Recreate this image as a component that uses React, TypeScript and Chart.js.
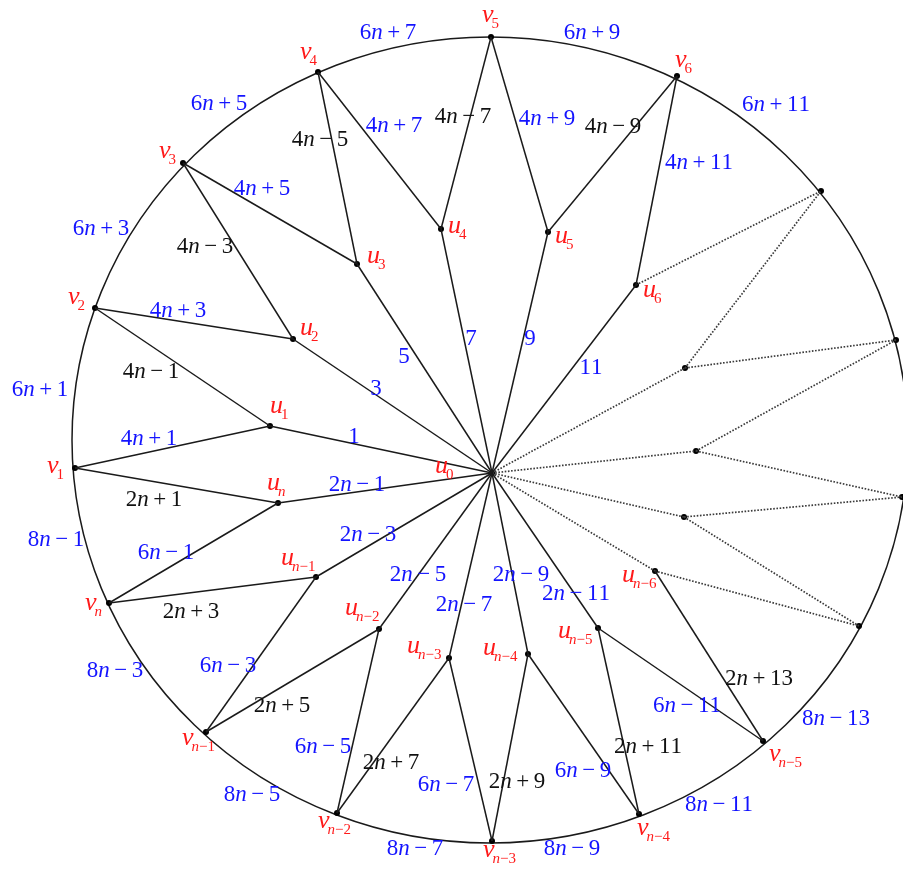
import React, { useEffect, useRef } from "react";
import { Chart, registerables } from "chart.js";

Chart.register(...registerables);

// ---- Graph nodes (data units = picture pixels, y downward) ----
const nodeIds = [
  "u0", "u1", "u2", "u3", "u4", "u5", "u6",
  "un", "un1", "un2", "un3", "un4", "un5", "un6",
  "w1", "w2", "w3",
  "v1", "v2", "v3", "v4", "v5", "v6", "v7", "v8", "v9",
  "vn", "vn1", "vn2", "vn3", "vn4", "vn5", "vn6",
];
const nodeX = [
  492, 270, 293, 357, 441, 548, 636,
  278, 316, 379, 449, 528, 598, 655,
  685, 696, 684,
  75, 95, 183, 318, 491, 677, 821, 896, 902,
  109, 206, 337, 492, 639, 763, 859,
];
const nodeY = [
  473, 426, 339, 264, 229, 232, 285,
  503, 577, 629, 658, 654, 628, 571,
  368, 451, 517,
  468, 308, 163, 72, 37, 76, 191, 340, 497,
  603, 732, 813, 841, 814, 741, 626,
];

// ---- Edges ----
const solidEdges: [string, string][] = [
  ["u0", "u1"], ["u0", "u2"], ["u0", "u3"], ["u0", "u4"], ["u0", "u5"], ["u0", "u6"],
  ["u0", "un"], ["u0", "un1"], ["u0", "un2"], ["u0", "un3"], ["u0", "un4"], ["u0", "un5"],
  ["u1", "v1"], ["u1", "v2"], ["u2", "v2"], ["u2", "v3"], ["u3", "v3"], ["u3", "v4"],
  ["u4", "v4"], ["u4", "v5"], ["u5", "v5"], ["u5", "v6"], ["u6", "v6"],
  ["un", "vn"], ["un", "v1"], ["un1", "vn1"], ["un1", "vn"], ["un2", "vn2"], ["un2", "vn1"],
  ["un3", "vn3"], ["un3", "vn2"], ["un4", "vn4"], ["un4", "vn3"], ["un5", "vn5"], ["un5", "vn4"],
  ["un6", "vn5"],
];
const dottedEdges: [string, string][] = [
  ["u6", "v7"], ["u0", "w1"], ["w1", "v7"], ["w1", "v8"],
  ["u0", "w2"], ["w2", "v8"], ["w2", "v9"],
  ["u0", "w3"], ["w3", "v9"], ["w3", "vn6"],
  ["u0", "un6"], ["un6", "vn6"],
];

// ---- Outer circle (ellipse in picture units) ----
const rimCenterX = 490;
const rimCenterY = 440;
const rimRadiusX = 418;
const rimRadiusY = 403;

// ---- Blue edge labels ----
const blueLabels = [
  "6n+7", "6n+9", "6n+11", "6n+5", "6n+3", "6n+1",
  "8n−1", "8n−3", "8n−5", "8n−7", "8n−9", "8n−11", "8n−13",
  "4n+7", "4n+5", "4n+3", "4n+1", "4n+9", "4n+11",
  "6n−1", "6n−3", "6n−5", "6n−7", "6n−9", "6n−11",
  "1", "3", "5", "7", "9", "11",
  "2n−1", "2n−3", "2n−5", "2n−7", "2n−9", "2n−11",
];
const blueX = [
  388, 592, 776, 219, 101, 40,
  56, 115, 252, 415, 572, 719, 836,
  394, 262, 178, 149, 547, 699,
  166, 228, 323, 446, 583, 687,
  354, 376, 404, 471, 530, 591,
  357, 368, 418, 464, 521, 576,
];
const blueY = [
  31, 31, 103, 102, 227, 388,
  538, 669, 793, 847, 847, 803, 717,
  124, 187, 309, 437, 117, 161,
  551, 664, 745, 783, 769, 704,
  435, 387, 355, 337, 337, 366,
  483, 533, 573, 603, 573, 592,
];

// ---- Black edge labels ----
const blackLabels = [
  "4n−5", "4n−3", "4n−7", "4n−9", "4n−1",
  "2n+1", "2n+3", "2n+5", "2n+7", "2n+9", "2n+11", "2n+13",
];
const blackX = [320, 205, 463, 613, 151, 154, 191, 282, 391, 517, 648, 759];
const blackY = [138, 245, 115, 125, 370, 498, 610, 704, 761, 780, 745, 677];

// ---- Red vertex labels (letter, subscript, left x, baseline y) ----
const vertexLetter = [
  "u", "u", "u", "u", "u", "u", "u",
  "u", "u", "u", "u", "u", "u", "u",
  "v", "v", "v", "v", "v", "v",
  "v", "v", "v", "v", "v", "v",
];
const vertexSub = [
  "0", "1", "2", "3", "4", "5", "6",
  "n", "n−1", "n−2", "n−3", "n−4", "n−5", "n−6",
  "1", "2", "3", "4", "5", "6",
  "n", "n−1", "n−2", "n−3", "n−4", "n−5",
];
const vertexX = [
  435, 270, 300, 367, 448, 555, 643,
  267, 281, 345, 407, 483, 558, 622,
  47, 68, 159, 300, 482, 675,
  85, 182, 318, 483, 637, 769,
];
const vertexY = [
  473, 413, 335, 263, 233, 243, 297,
  490, 565, 615, 653, 655, 638, 582,
  473, 304, 158, 59, 22, 67,
  610, 745, 828, 857, 835, 761,
];

const SERIF = '"Liberation Serif", "Times New Roman", serif';

function pos(id: string) {
  const i = nodeIds.indexOf(id);
  return { x: nodeX[i], y: nodeY[i] };
}

type Tok = { t: string; italic: boolean; pad: number };

function tokenize(s: string, size: number, spaced: boolean): Tok[] {
  return Array.from(s).map((c) => {
    if (c === "n") return { t: c, italic: true, pad: 0 };
    if ((c === "+" || c === "−") && spaced) return { t: c, italic: false, pad: size * 0.2 };
    return { t: c, italic: false, pad: 0 };
  });
}

function tokWidth(ctx: CanvasRenderingContext2D, tok: Tok, size: number) {
  ctx.font = `${tok.italic ? "italic " : ""}${size}px ${SERIF}`;
  return ctx.measureText(tok.t).width + 2 * tok.pad;
}

function drawTokens(ctx: CanvasRenderingContext2D, toks: Tok[], x: number, base: number, size: number) {
  let cx = x;
  for (const tok of toks) {
    ctx.font = `${tok.italic ? "italic " : ""}${size}px ${SERIF}`;
    ctx.fillText(tok.t, cx + tok.pad, base);
    cx += ctx.measureText(tok.t).width + 2 * tok.pad;
  }
  return cx;
}

function drawMath(ctx: CanvasRenderingContext2D, s: string, cx: number, cy: number, size: number, color: string) {
  const toks = tokenize(s, size, true);
  const w = toks.reduce((a, t) => a + tokWidth(ctx, t, size), 0);
  ctx.fillStyle = color;
  ctx.textBaseline = "alphabetic";
  ctx.textAlign = "left";
  drawTokens(ctx, toks, cx - w / 2, cy + size * 0.34, size);
}

const graphPlugin = {
  id: "graphDecor",
  beforeDatasetsDraw(chart: any) {
    const { ctx, scales } = chart;
    const xs = scales.x, ys = scales.y;
    const cx = xs.getPixelForValue(rimCenterX);
    const cy = ys.getPixelForValue(rimCenterY);
    const rx = Math.abs(xs.getPixelForValue(rimCenterX + rimRadiusX) - cx);
    const ry = Math.abs(ys.getPixelForValue(rimCenterY + rimRadiusY) - cy);
    ctx.save();
    ctx.beginPath();
    ctx.ellipse(cx, cy, rx, ry, 0, 0, Math.PI * 2);
    ctx.strokeStyle = "#1a1a1a";
    ctx.lineWidth = 1.5;
    ctx.stroke();
    ctx.restore();
  },
  afterDatasetsDraw(chart: any) {
    const { ctx, scales } = chart;
    const xs = scales.x, ys = scales.y;
    ctx.save();
    const size = 23;
    blueLabels.forEach((s, i) => {
      drawMath(ctx, s, xs.getPixelForValue(blueX[i]), ys.getPixelForValue(blueY[i]), size, "#1414ff");
    });
    blackLabels.forEach((s, i) => {
      drawMath(ctx, s, xs.getPixelForValue(blackX[i]), ys.getPixelForValue(blackY[i]), size, "#111111");
    });
    const mainSize = 26;
    const subSize = 15;
    vertexLetter.forEach((l, i) => {
      const x = xs.getPixelForValue(vertexX[i]);
      const base = ys.getPixelForValue(vertexY[i]);
      ctx.fillStyle = "#ff1a1a";
      ctx.textAlign = "left";
      ctx.textBaseline = "alphabetic";
      ctx.font = `italic ${mainSize}px ${SERIF}`;
      ctx.fillText(l, x, base);
      const w = ctx.measureText(l).width;
      const toks = tokenize(vertexSub[i], subSize, false);
      drawTokens(ctx, toks, x + w - 2, base + 6, subSize);
    });
    ctx.restore();
  },
};

export default function App() {
  const ref = useRef<HTMLCanvasElement | null>(null);
  useEffect(() => {
    if (!ref.current) return;
    const edgeSet = (edges: [string, string][], dotted: boolean) =>
      edges.map(([a, b]) => ({
        data: [pos(a), pos(b)],
        showLine: true,
        borderColor: dotted ? "#3a3a3a" : "#1a1a1a",
        borderWidth: dotted ? 1.7 : 1.5,
        borderDash: dotted ? [1.6, 1.6] : [],
        pointRadius: 0,
        pointHoverRadius: 0,
        fill: false,
        clip: false,
      }));
    const chart = new Chart(ref.current, {
      type: "scatter",
      data: {
        datasets: [
          ...edgeSet(solidEdges, false),
          ...edgeSet(dottedEdges, true),
          {
            data: nodeIds.map((id) => pos(id)),
            showLine: false,
            pointRadius: 3,
            pointBackgroundColor: "#000",
            pointBorderColor: "#000",
            pointBorderWidth: 0,
            clip: false,
          },
        ] as any,
      },
      options: {
        animation: false,
        responsive: false,
        maintainAspectRatio: false,
        devicePixelRatio: 1,
        layout: { padding: 0, autoPadding: false },
        events: [],
        scales: {
          x: { type: "linear", min: 0, max: 903, display: false },
          y: { type: "linear", min: 0, max: 871, reverse: true, display: false },
        },
        plugins: { legend: { display: false }, tooltip: { enabled: false }, title: { display: false } },
      },
      plugins: [graphPlugin],
    });
    return () => chart.destroy();
  }, []);
  return (
    <div style={{ position: "absolute", left: 0, top: 0, width: 903, height: 871, background: "#fff" }}>
      <canvas ref={ref} width={903} height={871} style={{ display: "block" }} />
    </div>
  );
}
